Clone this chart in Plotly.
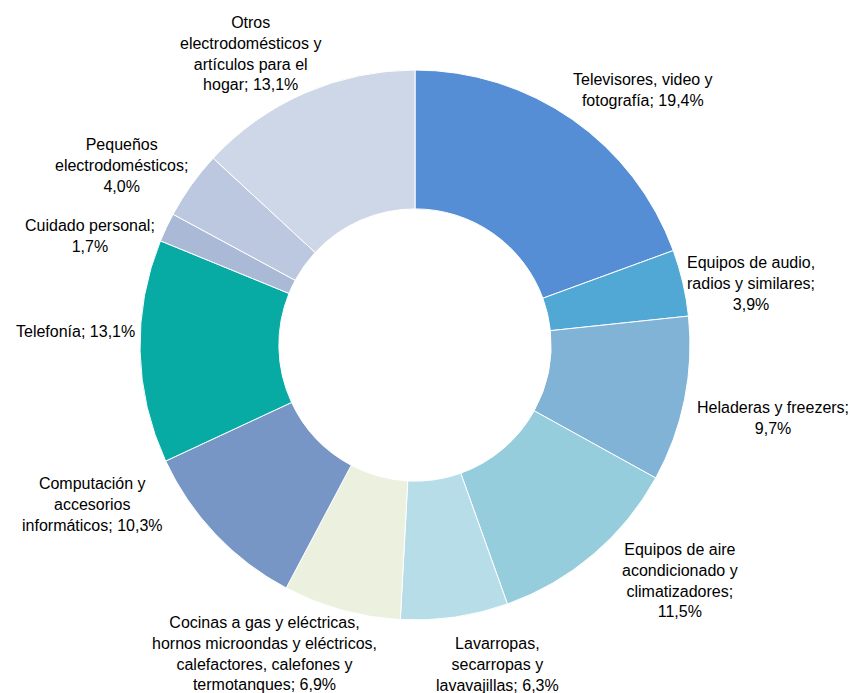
import plotly.graph_objects as go

# ---- data ----
categories = [
    "Televisores, video y fotografía",
    "Equipos de audio, radios y similares",
    "Heladeras y freezers",
    "Equipos de aire acondicionado y climatizadores",
    "Lavarropas, secarropas y lavavajillas",
    "Cocinas a gas y eléctricas, hornos microondas y eléctricos, calefactores, calefones y termotanques",
    "Computación y accesorios informáticos",
    "Telefonía",
    "Cuidado personal",
    "Pequeños electrodomésticos",
    "Otros electrodomésticos y artículos para el hogar",
]
shares = [19.4, 3.9, 9.7, 11.5, 6.3, 6.9, 10.3, 13.1, 1.7, 4.0, 13.1]

# display wrapping of each label (line breaks as in the reference)
label_wrapped = [
    "Televisores, video y<br>fotografía;",
    "Equipos de audio,<br>radios y similares;<br>",
    "Heladeras y freezers;<br>",
    "Equipos de aire<br>acondicionado y<br>climatizadores;<br>",
    "Lavarropas,<br>secarropas y<br>lavavajillas;",
    "Cocinas a gas y eléctricas,<br>hornos microondas y eléctricos,<br>calefactores, calefones y<br>termotanques;",
    "Computación y<br>accesorios<br>informáticos;",
    "Telefonía;",
    "Cuidado personal;<br>",
    "Pequeños<br>electrodomésticos;<br>",
    "Otros<br>electrodomésticos y<br>artículos para el<br>hogar;",
]

colors = ["#558ED5", "#52A8D4", "#80B3D6", "#95CDDD", "#B7DEE8", "#EBF0DF",
          "#7896C5", "#07ABA4", "#AAB9D6", "#BCC8E0", "#CDD7E8"]

# label anchor positions (pixels in the 856x693 canvas)
label_pos = [(643, 90), (751, 283), (773, 418), (680, 580), (497, 664),
             (264, 653), (92, 504), (75, 331), (90, 236), (122, 166), (250, 53)]

W, H = 856, 693
cx, cy, R = 415, 345, 275

fig = go.Figure(go.Pie(
    labels=categories,
    values=shares,
    sort=False,
    direction="clockwise",
    rotation=0,
    hole=0.495,
    marker=dict(colors=colors, line=dict(color="white", width=1)),
    textinfo="none",
    showlegend=False,
    domain=dict(x=[(cx - R) / W, (cx + R) / W],
                y=[(H - cy - R) / H, (H - cy + R) / H]),
))

for txt, v, (px, py) in zip(label_wrapped, shares, label_pos):
    pct = f"{v:.1f}%".replace(".", ",")
    sep = "" if txt.endswith("<br>") else " "
    fig.add_annotation(
        x=px / W, y=1 - py / H, xref="paper", yref="paper",
        text=txt + sep + pct, showarrow=False,
        xanchor="center", yanchor="middle", align="center",
        font=dict(family="Liberation Sans, Arial", size=16, color="#000"),
    )

fig.update_layout(
    width=W, height=H,
    margin=dict(l=0, r=0, t=0, b=0),
    paper_bgcolor="white", plot_bgcolor="white",
)

fig.write_html("out.html")
